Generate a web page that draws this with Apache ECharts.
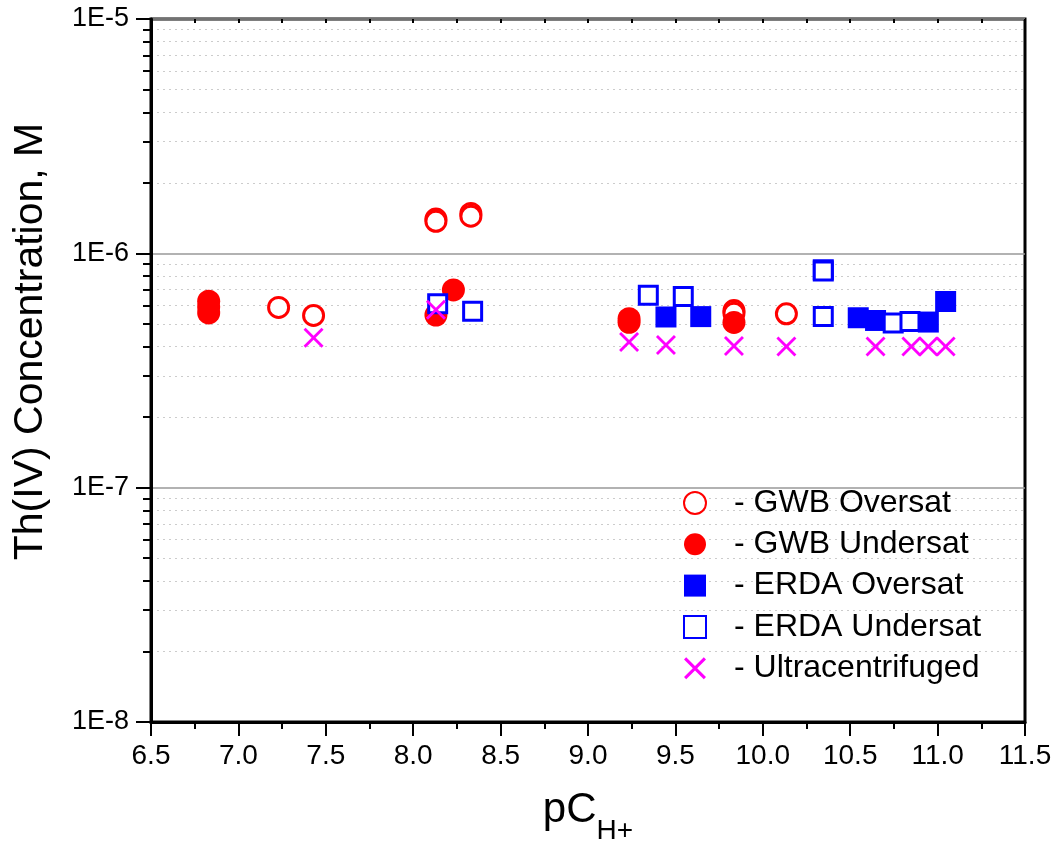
<!DOCTYPE html>
<html><head><meta charset="utf-8">
<script src="https://cdn.jsdelivr.net/npm/echarts@6/dist/echarts.min.js"></script>
<style>html,body{margin:0;padding:0;background:#fff}#c{width:1057px;height:842px}</style>
</head><body><div id="c"></div>
<script>
// ---- data ----
const seriesNames = ['GWB Oversat', 'GWB Undersat', 'ERDA Oversat', 'ERDA Undersat', 'Ultracentrifuged'];

const gwbOverX = [7.23, 7.43, 8.13, 8.13, 8.33, 8.33, 9.835, 9.835, 10.135];
const gwbOverY = [5.88e-7, 5.43e-7, 1.40e-6, 1.37e-6, 1.48e-6, 1.44e-6, 5.7e-7, 5.55e-7, 5.52e-7];

const gwbUnderX = [6.83, 6.83, 6.83, 8.13, 8.23, 9.235, 9.235, 9.835];
const gwbUnderY = [6.25e-7, 5.9e-7, 5.57e-7, 5.45e-7, 6.98e-7, 5.26e-7, 5.08e-7, 5.07e-7];

const erdaOverX = [9.446, 9.645, 10.546, 10.645, 10.947, 11.046];
const erdaOverY = [5.35e-7, 5.37e-7, 5.31e-7, 5.17e-7, 5.09e-7, 6.23e-7];

const erdaUnderX = [8.14, 8.34, 9.345, 9.545, 10.346, 10.346, 10.346, 10.746, 10.842];
const erdaUnderY = [6.1e-7, 5.66e-7, 6.62e-7, 6.55e-7, 8.5e-7, 8.4e-7, 5.37e-7, 5.04e-7, 5.12e-7];

const ultraX = [7.43, 8.13, 9.235, 9.446, 9.835, 10.135, 10.645, 10.85, 10.947, 11.046];
const ultraY = [4.36e-7, 5.74e-7, 4.18e-7, 4.06e-7, 4.02e-7, 4.0e-7, 4.0e-7, 4.0e-7, 4.0e-7, 4.0e-7];

const yTickLabels = {'-8': '1E-8', '-7': '1E-7', '-6': '1E-6', '-5': '1E-5'};
const xMin = 6.5, xMax = 11.5, xStep = 0.5;
const yMin = 1e-8, yMax = 1e-5;

// ---- helpers ----
const FONT = '"Liberation Sans", Arial, Helvetica, sans-serif';
const minorVals = [];
[1e-8, 1e-7, 1e-6].forEach(d => { for (let k = 2; k <= 9; k++) minorVals.push(+(k * d).toPrecision(3)); });
function pts(xs, ys) { return xs.map((x, i) => [x, ys[i]]); }
const X_PATH = 'path://M2,0L10,8L18,0L20,2L12,10L20,18L18,20L10,12L2,20L0,18L8,10L0,2Z';

const chart = echarts.init(document.getElementById('c'), null, {renderer: 'canvas'});
const option = {
  animation: false,
  backgroundColor: '#fff',
  grid: {left: 151, right: 32, top: 19, bottom: 120, show: true, borderColor: '#000', borderWidth: 3,
    containLabel: false, outerBoundsMode: 'none'},
  xAxis: [{
    type: 'value', min: xMin, max: xMax, interval: xStep, position: 'bottom',
    axisLine: {lineStyle: {color: '#000', width: 3}},
    axisTick: {inside: false, length: 14, lineStyle: {color: '#000', width: 2}},
    minorTick: {show: true, splitNumber: 2, length: 7, lineStyle: {color: '#000', width: 2}},
    splitLine: {show: false},
    axisLabel: {margin: 20, fontSize: 28, color: '#000', fontFamily: FONT, formatter: v => v.toFixed(1)},
    name: '{a|pC}{b|H+}', nameLocation: 'middle', nameGap: 53,
    nameTextStyle: {rich: {
      a: {fontSize: 42, fontFamily: FONT, color: '#000', lineHeight: 70},
      b: {fontSize: 28, fontFamily: FONT, color: '#000', lineHeight: 70, verticalAlign: 'bottom'}
    }}
  }, {
    type: 'value', min: xMin, max: xMax, interval: 0.25, position: 'top',
    axisLine: {show: false},
    axisTick: {inside: true, length: 4, lineStyle: {color: '#000', width: 2}},
    axisLabel: {show: false}, splitLine: {show: false}
  }],
  yAxis: [{
    type: 'log', logBase: 10, min: yMin, max: yMax, position: 'left',
    axisLine: {lineStyle: {color: '#000', width: 3}},
    axisTick: {inside: false, length: 15, lineStyle: {color: '#000', width: 2}},
    splitLine: {show: true, lineStyle: {color: '#999', width: 1.5}},
    axisLabel: {margin: 22, fontSize: 27, color: '#000', fontFamily: FONT,
      formatter: v => yTickLabels[String(Math.round(Math.log10(v)))] || ''},
    name: 'Th(IV) Concentration, M', nameLocation: 'middle', nameGap: 100,
    nameTextStyle: {fontSize: 41, fontFamily: FONT, color: '#000', padding: [0, 0, 0, 58]}
  }, {
    type: 'log', logBase: 10, min: yMin, max: yMax, position: 'left',
    axisLine: {show: false},
    axisTick: {show: true, inside: false, length: 8, customValues: minorVals, lineStyle: {color: '#000', width: 2}},
    axisLabel: {show: false},
    splitLine: {show: true, lineStyle: {color: '#ccc', width: 1.2, type: [2, 4]}}
  }],
  legend: {
    orient: 'vertical', left: 678, top: 482, itemWidth: 22, itemHeight: 22, itemGap: 9.3,
    data: seriesNames,
    formatter: n => '- ' + n,
    textStyle: {fontSize: 32, fontFamily: FONT, color: '#000', padding: [0, 0, 0, 23]}
  },
  series: [
    {name: seriesNames[0], type: 'scatter', data: pts(gwbOverX, gwbOverY), symbol: 'circle', symbolSize: 20,
      itemStyle: {color: '#fff', borderColor: '#ff0000', borderWidth: 3, opacity: 1}},
    {name: seriesNames[1], type: 'scatter', data: pts(gwbUnderX, gwbUnderY), symbol: 'circle', symbolSize: 23,
      itemStyle: {color: '#ff0000', opacity: 1}},
    {name: seriesNames[2], type: 'scatter', data: pts(erdaOverX, erdaOverY), symbol: 'rect', symbolSize: 21,
      itemStyle: {color: '#0000ff', opacity: 1}},
    {name: seriesNames[3], type: 'scatter', data: pts(erdaUnderX, erdaUnderY), symbol: 'rect', symbolSize: 18,
      itemStyle: {color: '#fff', borderColor: '#0000ff', borderWidth: 3, opacity: 1}},
    {name: seriesNames[4], type: 'scatter', data: pts(ultraX, ultraY), symbol: X_PATH, symbolSize: 20,
      itemStyle: {color: '#ff00ff', opacity: 1}}
  ]
};
chart.setOption(option);
</script>
</body></html>
